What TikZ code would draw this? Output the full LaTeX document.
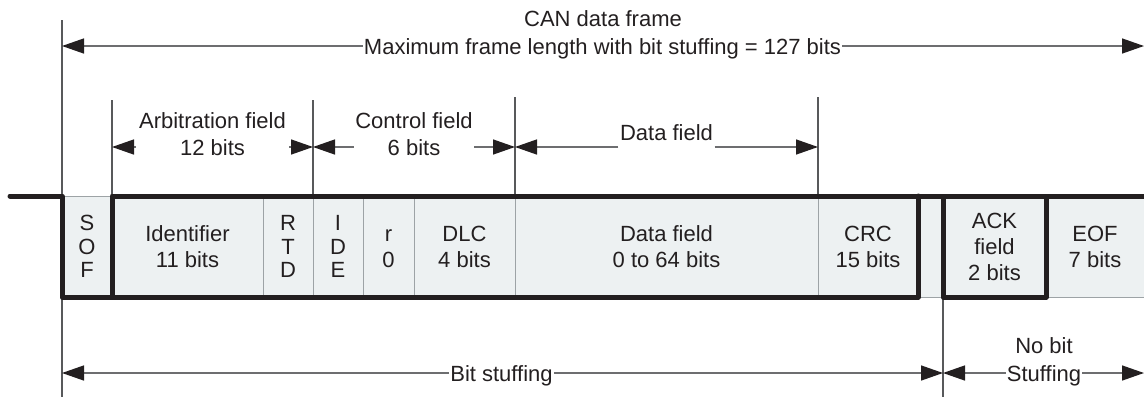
\documentclass[tikz,border=0pt]{standalone}
\usepackage{fontspec}
\setmainfont{Liberation Sans}
\usetikzlibrary{arrows.meta}
\definecolor{txt}{HTML}{231F20}
\definecolor{cellfill}{HTML}{EDF1F2}
\definecolor{divider}{HTML}{9DA3A6}
\definecolor{dimgray}{HTML}{6D6E70}
\definecolor{extgray}{HTML}{58595B}
\begin{document}
\begin{tikzpicture}[x=1pt,y=-1pt,
  font=\fontsize{22}{26}\selectfont, text=txt,
  cell/.style={draw=divider, line width=1pt, fill=cellfill, minimum height=101pt,
    inner sep=0pt, outer sep=0pt, align=center, anchor=north west},
  tight/.style={font=\fontsize{22}{23.5}\selectfont},
  thickline/.style={draw=txt, line width=5pt, line cap=round, line join=round},
  ext/.style={draw=extgray, line width=1.1pt},
  dim/.style={draw=dimgray, line width=1.4pt, -{Triangle[length=22pt,width=15pt,color=txt]}},
  lbl/.style={inner xsep=1pt, inner ysep=0pt, text height=16pt, text depth=0pt},
  gap/.style={inner sep=0pt, minimum height=1pt}]
\useasboundingbox (0,0) rectangle (1144,397);

% extension lines
\coordinate (t62) at (62,20);
\coordinate (b62) at (62,397);
\coordinate (t112) at (112,100);
\coordinate (t313) at (313,100);
\coordinate (t515) at (515,97);
\coordinate (t818) at (818,97);
\coordinate (b943) at (943,397);
\draw[ext] (t62) -- (b62);

% cells
\node[cell, tight, minimum width=50pt] (sof) at (62,196) {S\\O\\F};
\node[cell, minimum width=151pt] (id) at (112,196) {Identifier\\11 bits};
\node[cell, tight, minimum width=50pt] (rtd) at (263,196) {R\\T\\D};
\node[cell, tight, minimum width=50pt] (ide) at (313,196) {I\\D\\E};
\node[cell, minimum width=51pt] (r0) at (363,196) {\vphantom{0}r\\0};
\node[cell, minimum width=101pt] (dlc) at (414,196) {DLC\\4 bits};
\node[cell, minimum width=303pt] (data) at (515,196) {Data field\\0 to 64 bits};
\node[cell, minimum width=100pt] (crc) at (818,196) {CRC\\15 bits};
\node[cell, minimum width=25pt] (gapc) at (918,196) {};
\node[cell, minimum width=103pt] (ack) at (943,196) {ACK\\field\\2 bits};
\node[cell, minimum width=104pt] (eof) at (1046,196) {\hspace*{-6pt}EOF\\\hspace*{-6pt}7 bits};

\draw[ext] (t112) -- (id.north west);
\draw[ext] (t313) -- (ide.north west);
\draw[ext] (t515) -- (data.north west);
\draw[ext] (t818) -- (crc.north west);
\draw[ext] (ack.south west) -- (b943);

% thick outline
\coordinate (lead) at (10,196);
\draw[thickline] (lead) -- (sof.north west) -- (sof.south west) -- (crc.south east) -- (crc.north east);
\draw[thickline] (id.south west) -- (id.north west) -- (eof.north east);
\draw[thickline] (ack.north west) rectangle (ack.south east);

% top dimension
\node (title) at (603,19) {CAN data frame};
\node[lbl] (maxl) at (602.5,46) {Maximum frame length with bit stuffing = 127 bits};
\coordinate (a62) at (62,46);
\coordinate (a1144) at (1144,46);
\draw[dim] (maxl.west) -- (a62);
\draw[dim] (maxl.east) -- (a1144);

% arbitration field
\node (arbt) at (212.5,121) {Arbitration field};
\node[lbl, minimum width=153pt] (arbb) at (212.5,147) {12 bits};
\coordinate (f112) at (112,147);
\coordinate (f313) at (313,147);
\draw[dim] (arbb.west) -- (f112);
\draw[dim] (arbb.east) -- (f313);

% control field
\node (ctlt) at (414,121) {Control field};
\node[lbl, minimum width=120pt] (ctlb) at (414,147) {6 bits};
\coordinate (f515) at (515,147);
\draw[dim] (ctlb.west) -- (f313);
\draw[dim] (ctlb.east) -- (f515);

% data field
\node (dft) at (666.5,133) {Data field};
\node[gap, minimum width=96pt] (dfg) at (666.5,147) {};
\coordinate (f818) at (818,147);
\draw[dim] (dfg.west) -- (f515);
\draw[dim] (dfg.east) -- (f818);

% bit stuffing
\node[lbl] (bs) at (501.5,373) {Bit stuffing};
\coordinate (s62) at (62,373);
\coordinate (s943) at (943,373);
\coordinate (s1144) at (1144,373);
\draw[dim] (bs.west) -- (s62);
\draw[dim] (bs.east) -- (s943);

% no bit stuffing
\node (nb) at (1044,346) {No bit};
\node[lbl] (nbs) at (1044,373) {Stuffing};
\draw[dim] (nbs.west) -- (s943);
\draw[dim] (nbs.east) -- (s1144);
\end{tikzpicture}
\end{document}
